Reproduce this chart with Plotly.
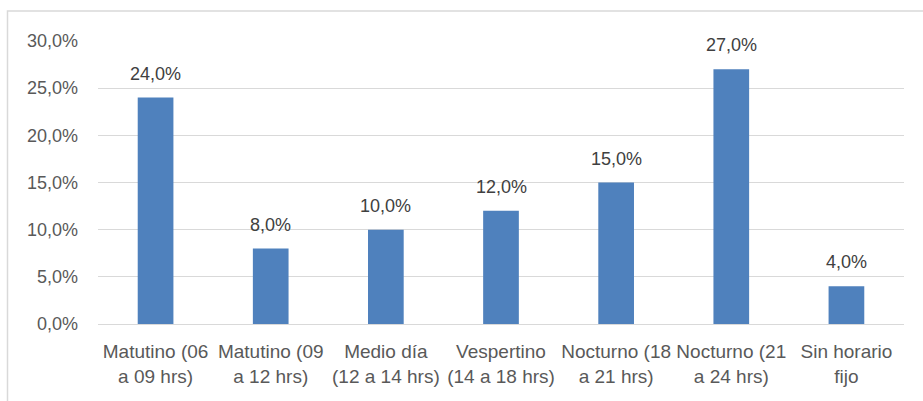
import plotly.graph_objects as go

categories = [
    "Matutino (06<br>a 09 hrs)",
    "Matutino (09<br>a 12 hrs)",
    "Medio día<br>(12 a 14 hrs)",
    "Vespertino<br>(14 a 18 hrs)",
    "Nocturno (18<br>a 21 hrs)",
    "Nocturno (21<br>a 24 hrs)",
    "Sin horario<br>fijo",
]
percentages = [24.0, 8.0, 10.0, 12.0, 15.0, 27.0, 4.0]
y_ticks = [0, 5, 10, 15, 20, 25, 30]

W, H = 923, 401
ML, MR, MT, MB = 98, 19, 41, 77
plot_w = W - ML - MR
plot_h = H - MT - MB

FONT = "Liberation Sans"
values = [v / 100 for v in percentages]

fig = go.Figure(
    go.Bar(
        x=categories,
        y=values,
        marker=dict(color="#4f81bd", line=dict(width=0)),
        hoverinfo="skip",
    )
)

# value labels above each bar
for cat, v in zip(categories, percentages):
    fig.add_annotation(
        x=cat, y=v / 100,
        xref="x", yref="y",
        text=f"{v:.1f}%".replace(".", ","),
        showarrow=False,
        yanchor="bottom",
        yshift=12,
        font=dict(family=FONT, size=18, color="#404040"),
    )

# outer chart border (right side runs off the canvas)
fig.add_shape(
    type="rect",
    xref="paper", yref="paper",
    x0=(7.5 - ML) / plot_w, x1=(940 - ML) / plot_w,
    y0=(MT + plot_h - 420) / plot_h, y1=(MT + plot_h - 11) / plot_h,
    line=dict(color="#d9d9d9", width=1.5),
    fillcolor="rgba(0,0,0,0)",
    layer="below",
)

fig.update_layout(
    width=W, height=H,
    margin=dict(l=ML, r=MR, t=MT, b=MB),
    paper_bgcolor="white",
    plot_bgcolor="white",
    separators=",.",
    showlegend=False,
    bargap=0.69,
    font=dict(family=FONT, size=18, color="#595959"),
    xaxis=dict(
        showgrid=False,
        showline=True,
        linecolor="#d9d9d9",
        linewidth=1,
        ticks="",
        ticklabelstandoff=10,
        tickfont=dict(family=FONT, size=19, color="#595959"),
        fixedrange=True,
    ),
    yaxis=dict(
        range=[0, 0.30],
        tickvals=[t / 100 for t in y_ticks],
        tickformat=".1%",
        showgrid=True,
        gridcolor="#d9d9d9",
        gridwidth=1,
        zeroline=False,
        showline=False,
        ticks="",
        ticklabelstandoff=19,
        tickfont=dict(family=FONT, size=18, color="#595959"),
        fixedrange=True,
    ),
)

fig.write_html("out.html")
